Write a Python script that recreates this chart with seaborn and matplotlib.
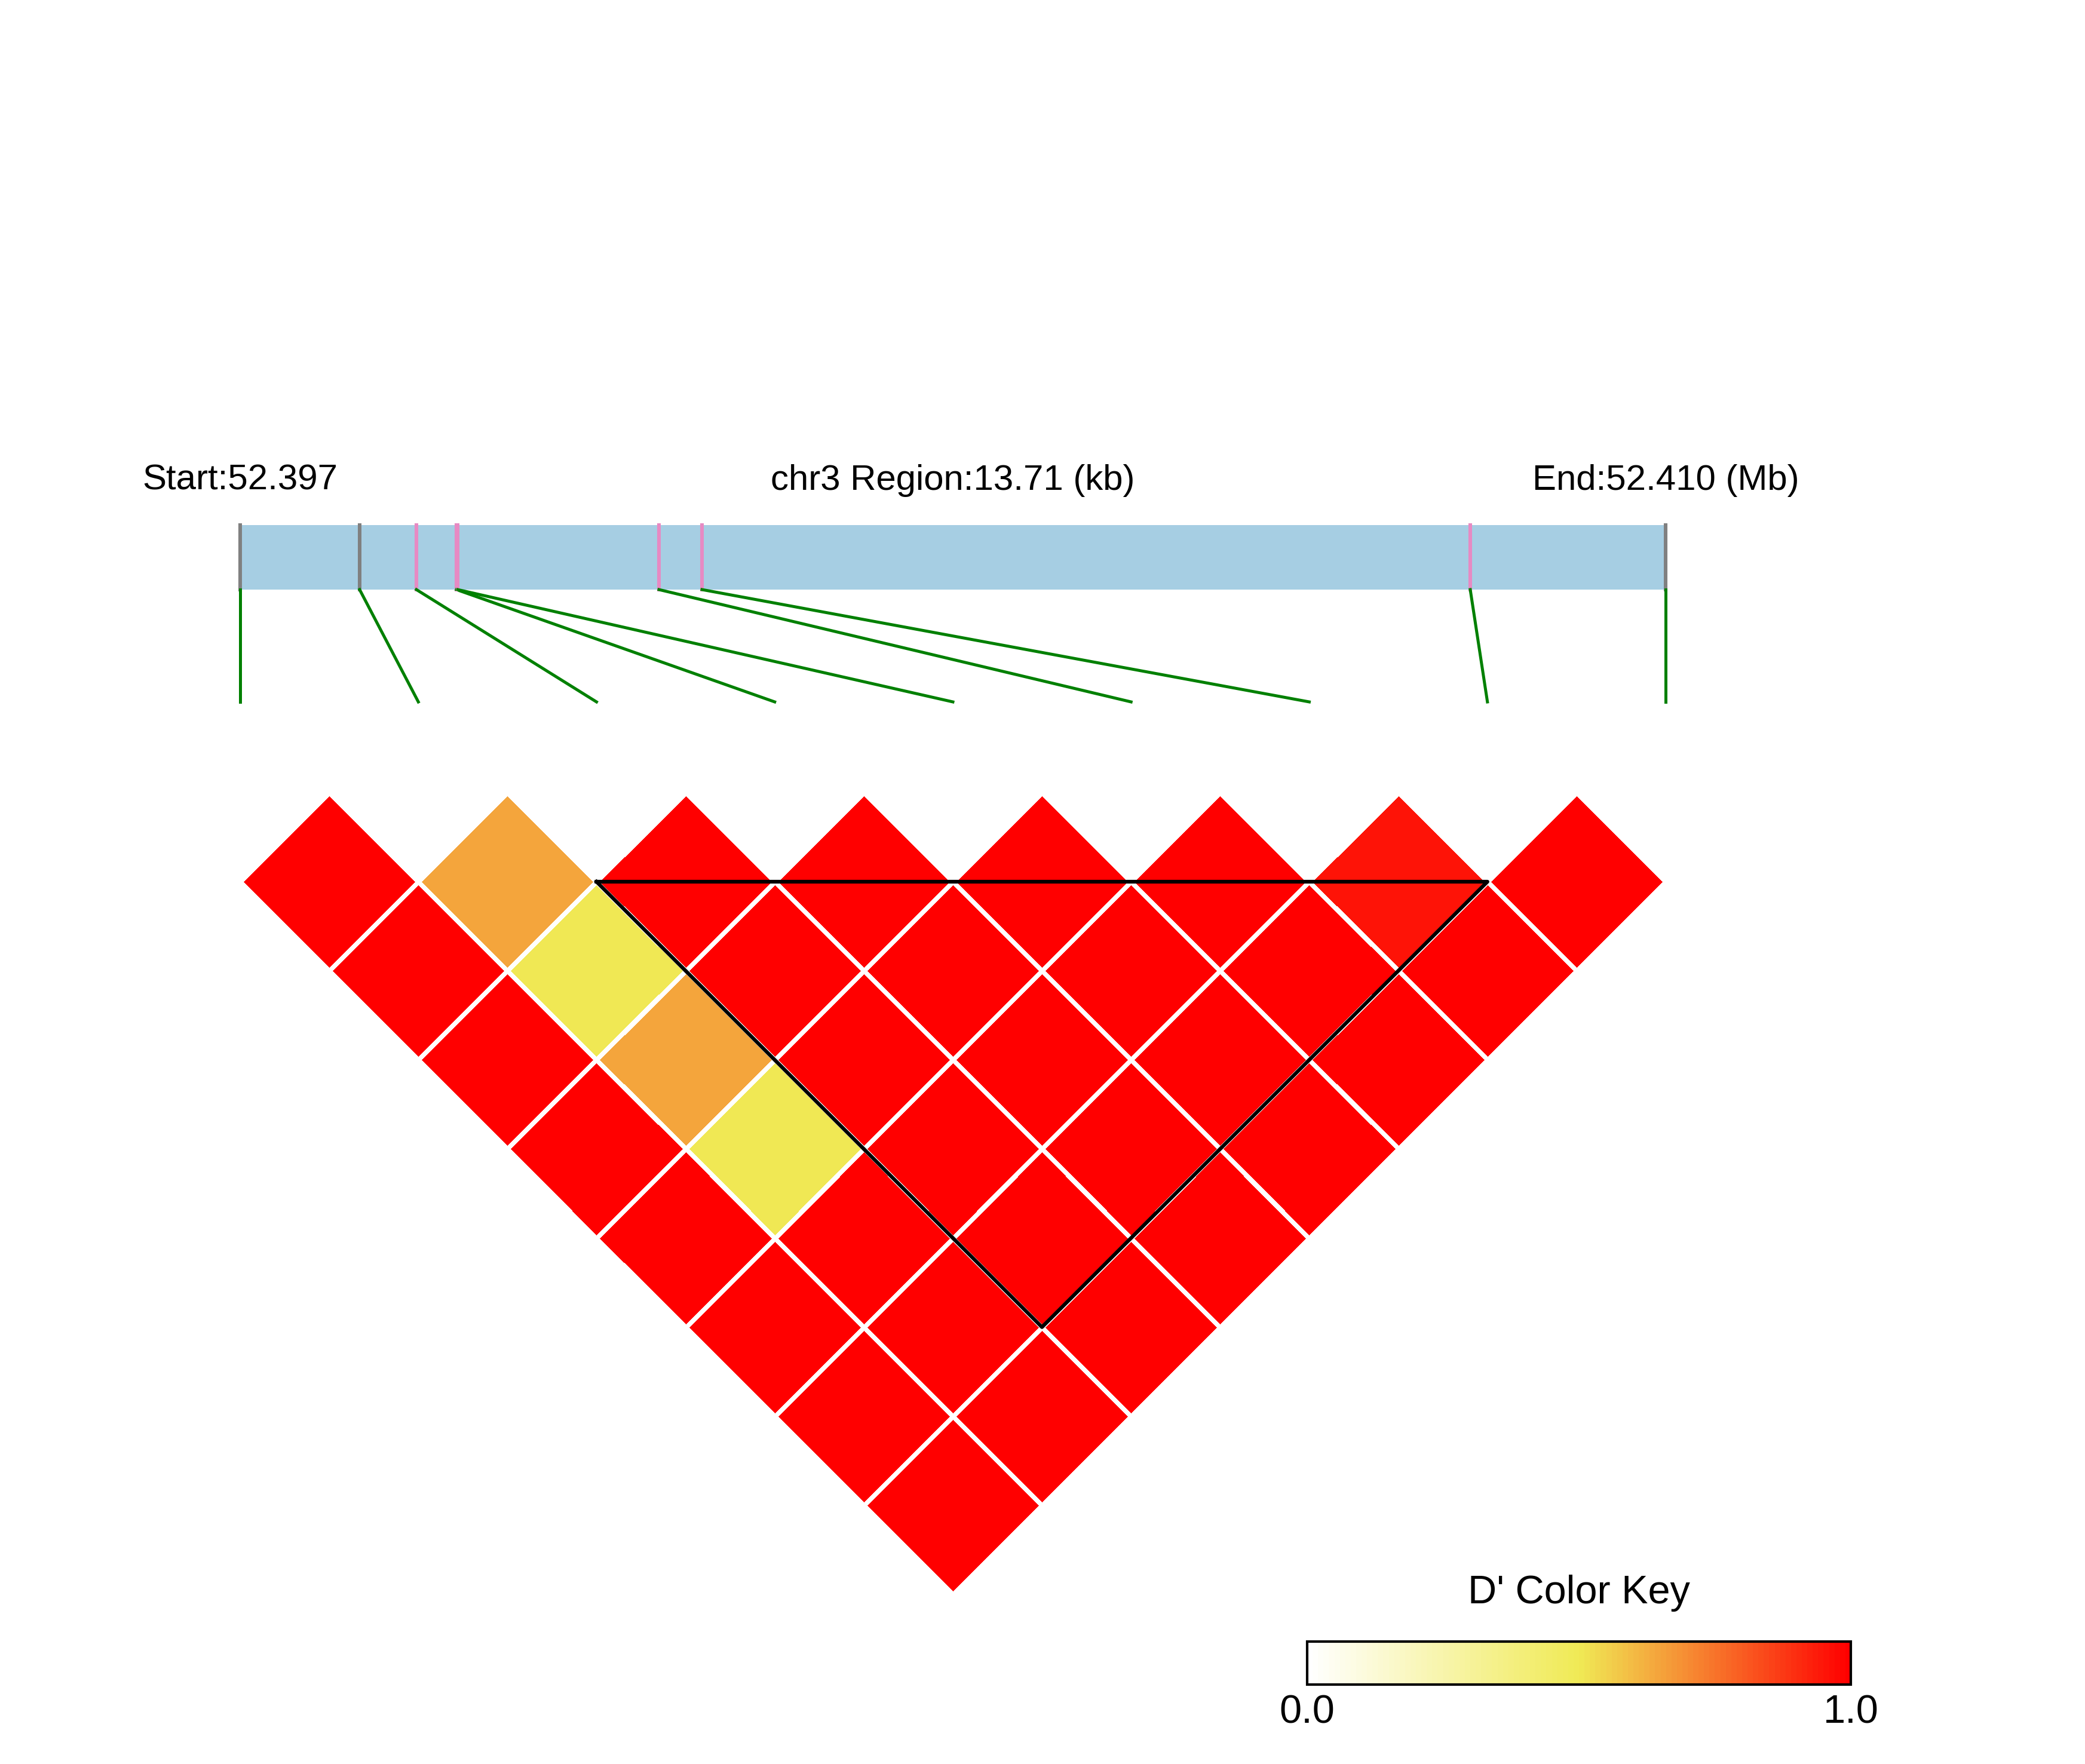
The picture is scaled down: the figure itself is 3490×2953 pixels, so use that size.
import numpy as np
import matplotlib
matplotlib.use("Agg")
import matplotlib.pyplot as plt
import seaborn as sns
from matplotlib.colors import LinearSegmentedColormap
from matplotlib.patches import Rectangle
from matplotlib.transforms import Affine2D

# --- data -------------------------------------------------------------
snp_pos = [52396600, 52397749, 52398295, 52398680, 52398692,
           52400628, 52401042, 52408431, 52410310]          # bp
# D' values, upper triangle, row i = SNP i vs SNPs i+1..8
dprime_rows = [
    [1.00, 1.00, 1.00, 1.00, 1.00, 1.00, 1.00, 1.00],
    [0.64, 0.50, 0.64, 0.50, 1.00, 1.00, 1.00],
    [1.00, 1.00, 1.00, 1.00, 1.00, 1.00],
    [1.00, 1.00, 1.00, 1.00, 1.00],
    [1.00, 1.00, 1.00, 1.00],
    [1.00, 1.00, 1.00],
    [0.95, 1.00],
    [1.00],
]
block = (2, 7)            # first and last SNP of the outlined block
chrom = "chr3"
key_title = "D' Color Key"
key_ticks = [0.0, 1.0]
key_labels = ["0.0", "1.0"]

# --- layout (pixels of the 3490x2953 canvas) ---------------------------
W, H = 3490, 2953
bar_left, bar_right = 402, 2788
bar_top, bar_bot = 879, 987
link_bot = 1175
heat_top = 1476

n = len(snp_pos)
dmat = np.full((n, n), np.nan)
for i, row in enumerate(dprime_rows):
    dmat[i, i + 1:] = row
mask = ~np.triu(np.ones((n, n), dtype=bool), k=1)

cmap = LinearSegmentedColormap.from_list(
    "ld", ["#FFFFFF", "#F0EA55", "#FF0000"], N=100)

fig = plt.figure(figsize=(W / 300, H / 300), dpi=300)
plt.rcParams["font.family"] = ["Liberation Sans", "DejaVu Sans"]
ax = fig.add_axes([0, 0, 1, 1])

sns.heatmap(dmat, mask=mask, cmap=cmap, vmin=0, vmax=1, cbar=False,
            linewidths=1.6, linecolor="white", ax=ax,
            xticklabels=False, yticklabels=False)
mesh = ax.collections[0]
# rotate the matrix 45 degrees under the SNP axis
h = (bar_right - bar_left) / (2 * (n - 1))
rot = Affine2D(np.array([[h, h, bar_left - h],
                         [h, -h, heat_top - h],
                         [0, 0, 1]]))
mesh.set_transform(rot + ax.transData)
mesh.set_zorder(1)

# block outline
a, b = block
ax.plot([a + 1, b + 1, b + 1, a + 1], [a, b, a, a], color="black",
        lw=1.5, transform=rot + ax.transData, zorder=4)

# genomic bar
start, end = snp_pos[0], snp_pos[-1]
gx = [bar_left + (p - start) / (end - start) * (bar_right - bar_left)
      for p in snp_pos]
ax.add_patch(Rectangle((bar_left, bar_top), bar_right - bar_left,
                       bar_bot - bar_top, color="#A6CEE3", lw=0, zorder=3))
for k, x in enumerate(gx):
    col = "#E78AC3" if a <= k <= b else "#808080"
    ax.plot([x, x], [bar_top, bar_bot], color=col, lw=1.45, zorder=4)
    ax.plot([x, bar_left + 2 * h * k], [bar_bot, link_bot],
            color="#008000", lw=1.2, zorder=4)

ax.text(bar_left, 820, f"Start:{start / 1e6:.3f}", ha="center",
        va="baseline", fontsize=14.4, zorder=5)
ax.text((bar_left + bar_right) / 2, 820,
        f"{chrom} Region:{(end - start) / 1e3:.2f} (kb)", ha="center",
        va="baseline", fontsize=14.4, zorder=5)
ax.text(bar_right, 820, f"End:{end / 1e6:.3f} (Mb)", ha="center",
        va="baseline", fontsize=14.4, zorder=5)

ax.set_xlim(0, W)
ax.set_ylim(H, 0)
ax.axis("off")

# color key
kx0, kx1, ky0, ky1 = 2188, 3098, 2748, 2820
cax = fig.add_axes([kx0 / W, 1 - ky1 / H, (kx1 - kx0) / W, (ky1 - ky0) / H])
cb = fig.colorbar(mesh, cax=cax, orientation="horizontal")
cb.outline.set_linewidth(1.0)
cb.outline.set_edgecolor("black")
cb.set_ticks(key_ticks)
cb.set_ticklabels(key_labels)
cax.tick_params(length=0, labelsize=16, pad=4)
ax.text((kx0 + kx1) / 2, 2684, key_title, ha="center", va="baseline",
        fontsize=16, zorder=5)

fig.savefig("out.png", dpi=300, facecolor="white")
